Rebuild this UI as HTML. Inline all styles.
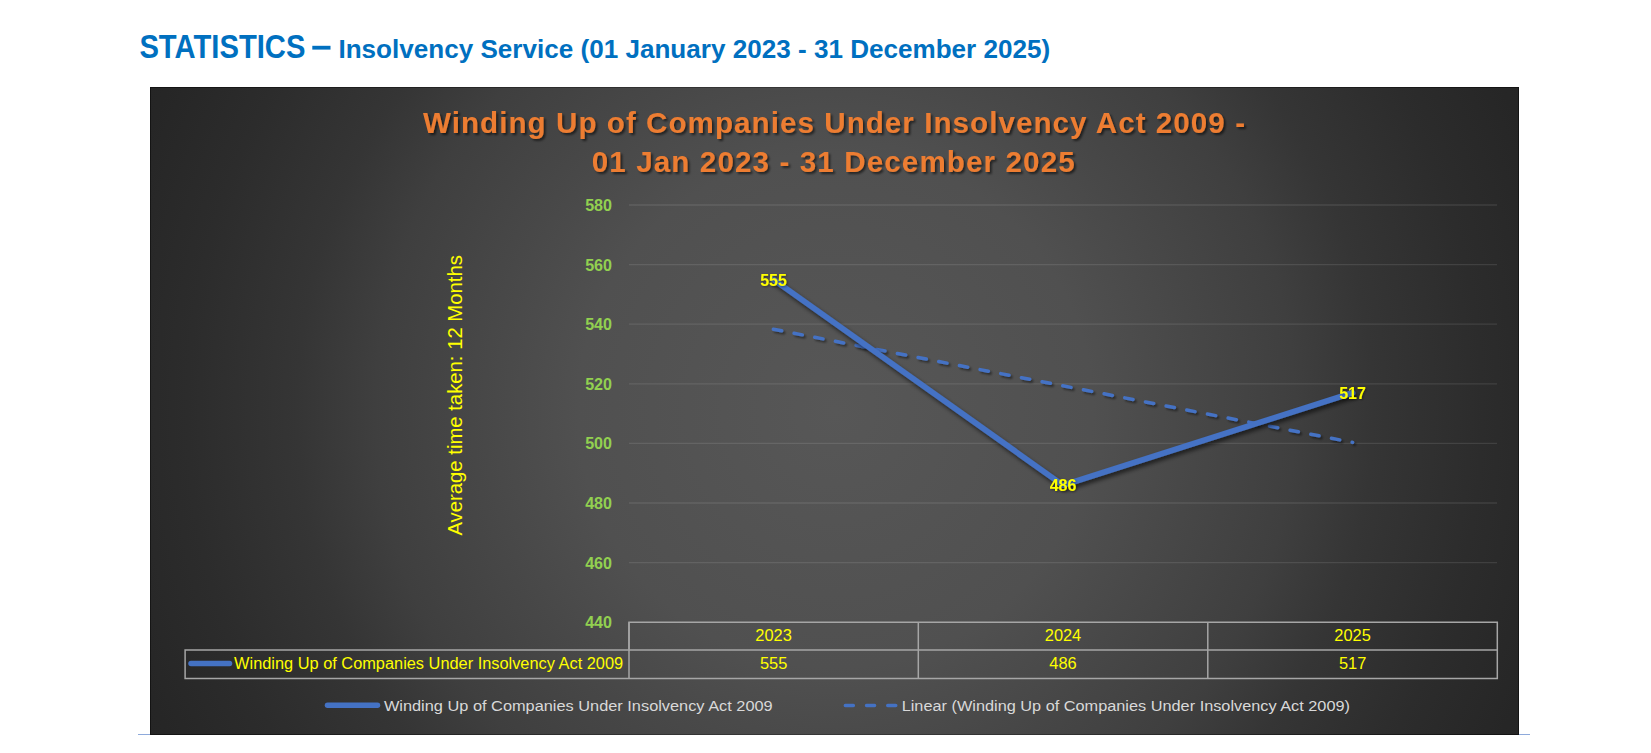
<!DOCTYPE html>
<html><head><meta charset="utf-8">
<style>
html,body{margin:0;padding:0;background:#fff;width:1651px;height:753px;overflow:hidden}
svg{display:block}
text{font-family:"Liberation Sans",sans-serif}
</style></head><body>
<svg width="1651" height="753" viewBox="0 0 1651 753">
<defs>
<radialGradient id="bg" gradientUnits="userSpaceOnUse" cx="835" cy="410" r="780">
<stop offset="0" stop-color="#575757"/>
<stop offset="0.33" stop-color="#505050"/>
<stop offset="0.45" stop-color="#484848"/>
<stop offset="0.59" stop-color="#3f3f3f"/>
<stop offset="0.69" stop-color="#353535"/>
<stop offset="0.83" stop-color="#2c2c2c"/>
<stop offset="0.95" stop-color="#262626"/>
<stop offset="1" stop-color="#252525"/>
</radialGradient>
<radialGradient id="bgb" gradientUnits="userSpaceOnUse" cx="835" cy="410" r="780">
<stop offset="0" stop-color="#4e4e4e"/>
<stop offset="0.33" stop-color="#3d3d3d"/>
<stop offset="0.45" stop-color="#343434"/>
<stop offset="0.59" stop-color="#2a2a2a"/>
<stop offset="0.69" stop-color="#212121"/>
<stop offset="0.83" stop-color="#191919"/>
<stop offset="0.95" stop-color="#141414"/>
<stop offset="1" stop-color="#121212"/>
</radialGradient>
<filter id="sh" x="-20%" y="-20%" width="140%" height="140%">
<feGaussianBlur in="SourceAlpha" stdDeviation="1.2"/>
<feOffset dx="1.5" dy="1.5" result="o"/>
<feFlood flood-color="#000" flood-opacity="0.55"/>
<feComposite in2="o" operator="in"/>
<feMerge><feMergeNode/><feMergeNode in="SourceGraphic"/></feMerge>
</filter>
<filter id="sh2" x="-10%" y="-10%" width="120%" height="120%">
<feGaussianBlur in="SourceAlpha" stdDeviation="1.2"/>
<feOffset dx="1.5" dy="1.5" result="o"/>
<feFlood flood-color="#000" flood-opacity="0.45"/>
<feComposite in2="o" operator="in"/>
<feMerge><feMergeNode/><feMergeNode in="SourceGraphic"/></feMerge>
</filter>
<filter id="shl" x="-10%" y="-10%" width="120%" height="130%">
<feGaussianBlur in="SourceAlpha" stdDeviation="2"/>
<feOffset dx="2" dy="2.5" result="o"/>
<feFlood flood-color="#000" flood-opacity="0.6"/>
<feComposite in2="o" operator="in"/>
<feMerge><feMergeNode/><feMergeNode in="SourceGraphic"/></feMerge>
</filter>
<filter id="sh3" x="-20%" y="-30%" width="140%" height="160%">
<feGaussianBlur in="SourceAlpha" stdDeviation="1"/>
<feOffset dx="1" dy="1" result="o"/>
<feFlood flood-color="#000" flood-opacity="0.4"/>
<feComposite in2="o" operator="in"/>
<feMerge><feMergeNode/><feMergeNode in="SourceGraphic"/></feMerge>
</filter>
</defs>
<!-- page line -->
<line x1="138" y1="734.5" x2="1530" y2="734.5" stroke="#8eaadb" stroke-width="1.2"/>
<!-- title -->
<text x="139.4" y="58" font-size="33.4" font-weight="bold" fill="#0070c0" textLength="166" lengthAdjust="spacingAndGlyphs">STATISTICS</text>
<rect x="312.3" y="45.8" width="18.2" height="3.8" fill="#0070c0"/>
<text x="338.4" y="57.6" font-size="26" font-weight="bold" fill="#0070c0" textLength="711.8" lengthAdjust="spacingAndGlyphs">Insolvency Service (01 January 2023 - 31 December 2025)</text>
<!-- chart box -->
<rect x="150" y="87" width="1369" height="648" fill="url(#bg)"/>
<rect x="150.5" y="87.5" width="1368" height="647" fill="none" stroke="url(#bgb)" stroke-width="1"/>
<!-- chart title -->
<g filter="url(#sh)" fill="#ed7d31" font-weight="bold" font-size="29.6">
<text x="423" y="133" textLength="822" lengthAdjust="spacing">Winding Up of Companies Under Insolvency Act 2009 -</text>
<text x="591.7" y="172" textLength="483" lengthAdjust="spacing">01 Jan 2023 - 31 December 2025</text>
</g>
<!-- gridlines -->
<g stroke="#ffffff" stroke-opacity="0.1" stroke-width="1.3">
<line x1="629" y1="205" x2="1497" y2="205"/>
<line x1="629" y1="264.6" x2="1497" y2="264.6"/>
<line x1="629" y1="324.2" x2="1497" y2="324.2"/>
<line x1="629" y1="383.8" x2="1497" y2="383.8"/>
<line x1="629" y1="443.4" x2="1497" y2="443.4"/>
<line x1="629" y1="503" x2="1497" y2="503"/>
<line x1="629" y1="562.6" x2="1497" y2="562.6"/>
</g>
<!-- y labels -->
<g fill="#92d050" font-weight="bold" font-size="16.1" text-anchor="end">
<text x="612" y="211.0">580</text>
<text x="612" y="270.6">560</text>
<text x="612" y="330.2">540</text>
<text x="612" y="389.8">520</text>
<text x="612" y="449.4">500</text>
<text x="612" y="509.0">480</text>
<text x="612" y="568.6">460</text>
<text x="612" y="628.2">440</text>
</g>
<!-- axis title -->
<text transform="translate(461.7,535.6) rotate(-90)" x="0" y="0" font-size="20.6" fill="#ffff00" textLength="280.5" lengthAdjust="spacingAndGlyphs">Average time taken: 12 Months</text>
<!-- data table -->
<g fill="none" stroke="#a6a6a6" stroke-width="1.5">
<path d="M629 622.3H1497.3V678.5H185.1V650H629Z"/>
<line x1="629" y1="650" x2="1497.3" y2="650"/>
<line x1="629" y1="622.3" x2="629" y2="678.5"/>
<line x1="918.3" y1="622.3" x2="918.3" y2="678.5"/>
<line x1="1207.8" y1="622.3" x2="1207.8" y2="678.5"/>
</g>
<line x1="191" y1="663.5" x2="229.5" y2="663.5" stroke="#4472c4" stroke-width="5.5" stroke-linecap="round"/>
<g fill="#ffff00" font-size="16.4" text-anchor="middle">
<text x="773.6" y="641.1">2023</text>
<text x="1063" y="641.1">2024</text>
<text x="1352.6" y="641.1">2025</text>
<text x="773.6" y="669">555</text>
<text x="1063" y="669">486</text>
<text x="1352.6" y="669">517</text>
</g>
<text x="234.1" y="669.1" font-size="16" fill="#ffff00" textLength="389" lengthAdjust="spacingAndGlyphs">Winding Up of Companies Under Insolvency Act 2009</text>
<!-- lines -->
<polyline points="773.4,329.2 1352.6,442.4" fill="none" stroke="#4472c4" stroke-width="3.5" stroke-dasharray="8.4 12.66" stroke-linecap="round" filter="url(#sh2)"/>
<polyline points="773.4,279.5 1063,485.2 1352.6,392.8" fill="none" stroke="#4472c4" stroke-width="5.7" stroke-linejoin="round" stroke-linecap="round" filter="url(#shl)"/>
<!-- data labels -->
<g fill="#ffff00" font-weight="bold" font-size="16" text-anchor="middle" filter="url(#sh3)">
<text x="773.5" y="286.1">555</text>
<text x="1063" y="491.4">486</text>
<text x="1352.5" y="399">517</text>
</g>
<!-- legend -->
<line x1="327.5" y1="705.3" x2="377.5" y2="705.3" stroke="#4472c4" stroke-width="5.5" stroke-linecap="round"/>
<text x="383.9" y="710.7" font-size="15.3" fill="#d9d9d9" textLength="388.8" lengthAdjust="spacingAndGlyphs">Winding Up of Companies Under Insolvency Act 2009</text>
<line x1="845.35" y1="705.4" x2="895.75" y2="705.4" stroke="#4472c4" stroke-width="3.5" stroke-dasharray="8 13.2" stroke-linecap="round"/>
<text x="901.7" y="710.8" font-size="15.3" fill="#d9d9d9" textLength="448.3" lengthAdjust="spacingAndGlyphs">Linear (Winding Up of Companies Under Insolvency Act 2009)</text>
</svg>
</body></html>
